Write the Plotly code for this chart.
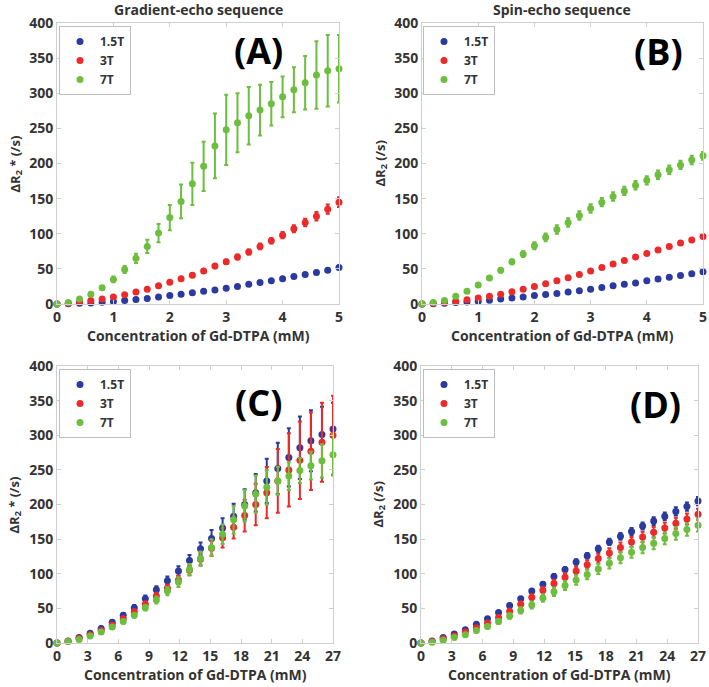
import plotly.graph_objects as go

# ---------------- data ----------------
conc_ab = [0, 0.2, 0.4, 0.6, 0.8, 1.0, 1.2, 1.4, 1.6, 1.8, 2.0, 2.2, 2.4, 2.6, 2.8,
           3.0, 3.2, 3.4, 3.6, 3.8, 4.0, 4.2, 4.4, 4.6, 4.8, 5.0]
conc_cd = [0, 1.08, 2.16, 3.24, 4.32, 5.4, 6.48, 7.56, 8.64, 9.72, 10.8, 11.88, 12.96,
           14.04, 15.12, 16.2, 17.28, 18.36, 19.44, 20.52, 21.6, 22.68, 23.76, 24.84, 25.92, 27]

series_names = ["1.5T", "3T", "7T"]

# Panel A: gradient echo, 0-5 mM
a_15 = [0, 0.5, 1, 1.5, 2.5, 3.5, 5, 6.5, 8, 10, 12, 14, 16, 18, 20, 22.5, 25, 28, 30.5, 33, 36, 39, 42, 45, 48, 52]
a_15_err = [0, 0.5, 0.5, 0.5, 0.5, 1, 1, 1, 1, 1, 1, 1, 1.5, 1.5, 1.5, 1.5, 1.5, 1.5, 1.5, 2, 2, 2, 2, 2.5, 2.5, 2.5]
a_3 = [0, 1, 3, 5, 7, 10, 13, 17, 21, 26, 31, 36, 41, 47, 54, 60, 67, 74, 82, 90, 98, 107, 116, 125, 135, 145]
a_3_err = [0, 0.5, 0.5, 1, 1, 1.5, 1.5, 2, 2, 2, 2.5, 2.5, 2.5, 3, 3, 3, 3.5, 3.5, 4, 4, 4.5, 5, 5.5, 6, 6.5, 7]
a_7 = [0, 2, 7, 14, 23, 35, 49, 65, 82, 101, 123, 146, 171, 196, 225, 248, 258, 268, 276, 285, 295, 305, 315, 326, 332, 335]
a_7_err = [0, 1, 1.5, 2, 2.5, 4, 5, 6.5, 9.5, 13, 18, 24, 30, 35, 46, 50, 42, 41, 36, 31, 29, 32, 38, 48, 51, 48]

# Panel B: spin echo, 0-5 mM
b_15 = [0, 0.5, 1, 2, 3, 4, 5.5, 7, 8.5, 10, 12, 13.5, 15, 17, 19, 21, 23.5, 26, 28, 30, 33, 35.5, 38, 40.5, 43, 46]
b_15_err = [0, 0.5, 0.5, 0.5, 0.5, 0.5, 1, 1, 1, 1, 1, 1, 1, 1, 1.5, 1.5, 1.5, 1.5, 1.5, 1.5, 1.5, 2, 2, 2, 2, 2]
b_3 = [0, 1, 2, 4, 6, 8.5, 11, 14, 17.5, 21, 25, 29, 33, 37.5, 42, 47, 52, 57, 62, 67, 72, 77, 82, 87, 91, 96]
b_3_err = [0, 0.5, 0.5, 0.5, 1, 1, 1, 1, 1.5, 1.5, 1.5, 1.5, 2, 2, 2, 2, 2, 2, 2, 2, 2, 2, 2, 2, 2.5, 2.5]
b_7 = [0, 2, 5, 11, 18, 27, 37, 48, 60, 71, 83, 95, 106, 116, 126, 136, 145, 153, 161, 169, 176, 184, 191, 198, 205, 211]
b_7_err = [0, 0.5, 1, 1.5, 2, 2, 2.5, 3, 3.5, 4, 5, 5.5, 6, 6, 6, 6, 6, 6, 6, 6, 6, 6, 6, 6, 6, 5.5]

# Panel C: gradient echo, 0-27 mM
c_15 = [0, 3, 8, 14, 21, 30, 40, 51, 64, 77, 90, 104, 119, 136, 151, 166, 183, 200, 217, 234, 252, 268, 282, 292, 301, 309]
c_15_err = [0, 1, 1.5, 2, 2.5, 3, 3.5, 4, 4.5, 5, 6, 7, 8, 9, 12, 14, 18, 22, 27, 32, 37, 42, 45, 44, 40, 38]
c_3 = [0, 2.5, 7, 12, 18, 26, 35, 45, 56, 68, 79, 91, 105, 121, 137, 152, 167, 184, 200, 217, 234, 250, 264, 277, 290, 300]
c_3_err = [0, 1, 1, 1.5, 2, 2.5, 3, 3.5, 4, 4.5, 5, 6, 7, 9, 11, 14, 16, 23, 30, 37, 46, 53, 56, 56, 57, 57]
c_7 = [0, 2, 5, 10, 16, 23, 31, 40, 51, 62, 75, 88, 106, 122, 138, 157, 178, 198, 215, 225, 234, 241, 249, 256, 263, 272]
c_7_err = [0, 1, 1, 1.5, 2, 2.5, 3, 3.5, 4, 5, 6, 7, 8, 10, 12, 14, 20, 23, 27, 25, 20, 20, 18, 20, 24, 30]

# Panel D: spin echo, 0-27 mM
d_15 = [0, 3, 8, 13, 19, 27, 35, 44, 54, 64, 75, 85, 96, 106, 117, 126, 136, 146, 154, 161, 169, 176, 183, 190, 197, 205]
d_15_err = [0, 0.5, 1, 1, 1.5, 1.5, 2, 2, 2.5, 2.5, 3, 3, 3.5, 3.5, 4, 4, 4.5, 4.5, 5, 5, 5, 5.5, 5.5, 6, 6, 6]
d_3 = [0, 2, 6, 10, 16, 22, 29, 37, 46, 56, 66, 76, 86, 95, 104, 113, 122, 130, 138, 146, 153, 160, 166, 173, 179, 186]
d_3_err = [0, 1, 1, 1.5, 2, 2, 2.5, 3, 3.5, 4, 4.5, 5, 5.5, 6, 6, 6.5, 7, 7, 7, 7, 7.5, 7.5, 8, 8, 8, 8]
d_7 = [0, 1, 4, 8, 12, 18, 24, 31, 39, 47, 55, 65, 74, 83, 91, 99, 107, 115, 123, 131, 138, 144, 151, 158, 164, 170]
d_7_err = [0, 1, 1, 1.5, 2, 2.5, 3, 3.5, 4, 4.5, 5, 5.5, 6, 6.5, 7, 7, 7.5, 7.5, 8, 8, 8.5, 8.5, 8.5, 9, 9, 9]

x_ticks_ab = [0, 1, 2, 3, 4, 5]
x_ticks_cd = [0, 3, 6, 9, 12, 15, 18, 21, 24, 27]
y_ticks = [0, 50, 100, 150, 200, 250, 300, 350, 400]

panel_labels = ["(A)", "(B)", "(C)", "(D)"]
seq_titles = ["Gradient-echo sequence", "Spin-echo sequence"]
x_title = "Concentration of Gd-DTPA (mM)"
y_titles = ["ΔR<sub>2</sub> * (/s)", "ΔR<sub>2</sub> (/s)", "ΔR<sub>2</sub> * (/s)", "ΔR<sub>2</sub> (/s)"]

# ---------------- styling ----------------
colors = ["#2B3A9E", "#EC2A2A", "#6DBE3E"]
FONT = "Open Sans"
TXT = "#333333"
W, H = 709, 687

def px_x(p):
    return p / W

def px_y(p):
    return 1 - p / H

# panel plot-area pixel boxes: (left, right, top, bottom)
boxes = [(57, 339, 23, 304), (422, 703, 23, 304), (57, 333, 366, 643), (421, 698, 366, 643)]
legend_pos = [(59, 26), (423, 26), (59, 369), (423, 369)]
label_pos = [(258, 50), (658, 52), (258, 402), (655, 404)]

panels = [
    (conc_ab, [(a_15, a_15_err), (a_3, a_3_err), (a_7, a_7_err)], [0, 5], x_ticks_ab),
    (conc_ab, [(b_15, b_15_err), (b_3, b_3_err), (b_7, b_7_err)], [0, 5], x_ticks_ab),
    (conc_cd, [(c_15, c_15_err), (c_3, c_3_err), (c_7, c_7_err)], [0, 27], x_ticks_cd),
    (conc_cd, [(d_15, d_15_err), (d_3, d_3_err), (d_7, d_7_err)], [0, 27], x_ticks_cd),
]

fig = go.Figure()
layout = dict(
    width=W, height=H,
    margin=dict(l=0, r=0, t=0, b=0, pad=0, autoexpand=False),
    paper_bgcolor="white", plot_bgcolor="white",
    showlegend=True,
    font=dict(family=FONT, color=TXT),
)
annotations = []

for i, (xs, ser, xr, xt) in enumerate(panels):
    n = i + 1
    xa = "x" if n == 1 else f"x{n}"
    ya = "y" if n == 1 else f"y{n}"
    lg = "legend" if n == 1 else f"legend{n}"
    for k in range(3):
        vals, errs = ser[k]
        fig.add_trace(go.Scatter(
            x=xs, y=vals, mode="markers", name=series_names[k],
            xaxis=xa, yaxis=ya, legend=lg,
            marker=dict(color=colors[k], size=7, line=dict(width=0)),
            error_y=dict(type="data", array=errs, visible=True,
                         color=colors[k], thickness=2, width=2),
            cliponaxis=False,
        ))
    l, r, t, b = boxes[i]
    axcommon = dict(showline=True, linecolor="#cfcfcf", linewidth=1, mirror="ticks",
                    ticks="inside", ticklen=4, tickcolor="#cfcfcf", showgrid=False,
                    zeroline=False, automargin=False,
                    tickfont=dict(family=FONT, size=14, color=TXT, weight="bold"))
    layout["xaxis" if n == 1 else f"xaxis{n}"] = dict(
        axcommon, domain=[px_x(l), px_x(r)], range=xr, tickvals=xt,
        anchor=ya, fixedrange=True)
    layout["yaxis" if n == 1 else f"yaxis{n}"] = dict(
        axcommon, domain=[px_y(b), px_y(t)], range=[0, 400], tickvals=y_ticks,
        anchor=xa, fixedrange=True)
    lx, ly = legend_pos[i]
    layout[lg] = dict(x=px_x(lx), y=px_y(ly), xanchor="left", yanchor="top",
                      bgcolor="white", bordercolor="#bdbdbd", borderwidth=1,
                      font=dict(family=FONT, size=12, color=TXT, weight="bold"),
                      traceorder="normal", tracegroupgap=0, itemwidth=30)
    # panel label
    px_, py_ = label_pos[i]
    annotations.append(dict(text=f"<b>{panel_labels[i]}</b>", x=px_x(px_), y=px_y(py_),
                            xref="paper", yref="paper", showarrow=False,
                            font=dict(family=FONT, size=36, color="black"),
                            xanchor="center", yanchor="middle"))
    # x title
    annotations.append(dict(text=f"<b>{x_title}</b>", x=px_x((l + r) / 2), y=px_y(b + 31),
                            xref="paper", yref="paper", showarrow=False,
                            font=dict(family=FONT, size=14, color=TXT),
                            xanchor="center", yanchor="middle"))
    # y title
    annotations.append(dict(text=f"<b>{y_titles[i]}</b>", x=px_x(l - 42), y=px_y((t + b) / 2),
                            xref="paper", yref="paper", showarrow=False, textangle=-90,
                            font=dict(family=FONT, size=13, color=TXT),
                            xanchor="center", yanchor="middle"))

# sequence titles
annotations.append(dict(text=f"<b>{seq_titles[0]}</b>", x=px_x(198), y=px_y(10),
                        xref="paper", yref="paper", showarrow=False,
                        font=dict(family=FONT, size=14, color=TXT),
                        xanchor="center", yanchor="middle"))
annotations.append(dict(text=f"<b>{seq_titles[1]}</b>", x=px_x(562), y=px_y(10),
                        xref="paper", yref="paper", showarrow=False,
                        font=dict(family=FONT, size=14, color=TXT),
                        xanchor="center", yanchor="middle"))

layout["annotations"] = annotations
fig.update_layout(**layout)
fig.write_html("out.html",
               config={"displayModeBar": False},
               post_script="document.body.style.margin='0';document.body.style.padding='0';")
